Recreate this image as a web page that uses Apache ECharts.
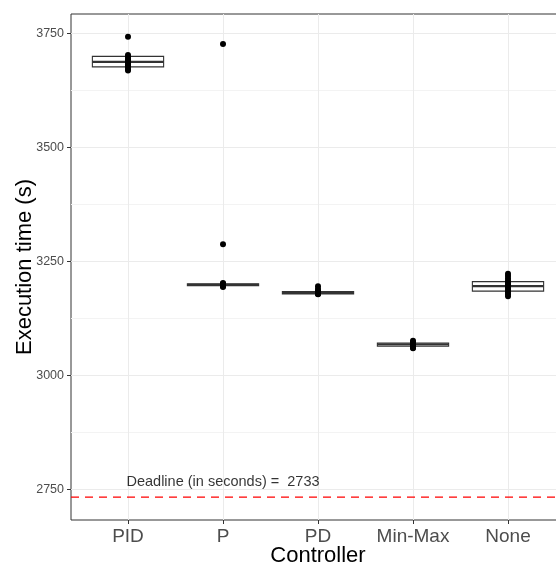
<!DOCTYPE html>
<html>
<head>
<meta charset="utf-8">
<script src="https://cdn.jsdelivr.net/npm/echarts@6/dist/echarts.min.js"></script>
<style>
html, body { margin: 0; padding: 0; background: #fff; }
#main { width: 556px; height: 566px; }
</style>
</head>
<body>
<div id="main"></div>
<script>
var controllers = ["PID", "P", "PD", "Min-Max", "None"];

// box statistics per controller (lower whisker, Q1, median, Q3, upper whisker)
var boxLow = [3669, 3194, 3178, 3060, 3174];
var boxQ1 = [3677, 3197, 3179, 3064, 3185];
var boxMed = [3688, 3199, 3181, 3068, 3196];
var boxQ3 = [3700, 3201, 3184, 3071, 3206];
var boxHigh = [3703, 3203, 3185, 3076, 3223];

// individual runs
var runsPID = [3743, 3703, 3698, 3694, 3691, 3689, 3687, 3684, 3680, 3676, 3672, 3669];
var runsP = [3727, 3288, 3203, 3201, 3200, 3199, 3198, 3197, 3196, 3194];
var runsPD = [3196, 3190, 3185, 3183, 3182, 3181, 3180, 3179, 3178];
var runsMinMax = [3076, 3073, 3071, 3069, 3068, 3067, 3065, 3063, 3061, 3060];
var runsNone = [3223, 3218, 3213, 3208, 3204, 3200, 3197, 3194, 3190, 3186, 3182, 3178, 3174];

var deadline = 2733;
var deadlineLabelPos = [2, 2766];

var yTicks = [2750, 3000, 3250, 3500, 3750];
var yMinorTicks = [2875, 3125, 3375, 3625];
var xTicks = [1, 2, 3, 4, 5];

var font = "Liberation Sans, Arial, Helvetica, sans-serif";

var boxData = [];
for (var i = 0; i < controllers.length; i++) {
  boxData.push([i + 1, boxLow[i], boxQ1[i], boxMed[i], boxQ3[i], boxHigh[i]]);
}

var allRuns = [runsPID, runsP, runsPD, runsMinMax, runsNone];
var pointData = [];
allRuns.forEach(function(runs, i) {
  runs.forEach(function(v) {
    pointData.push([i + 1, v]);
  });
});

function renderBox(params, api) {
  var x = api.value(0);
  var half = api.size([0.75, 0])[0] / 2;
  var pLow = api.coord([x, api.value(1)]);
  var pQ1 = api.coord([x, api.value(2)]);
  var pMed = api.coord([x, api.value(3)]);
  var pQ3 = api.coord([x, api.value(4)]);
  var pHigh = api.coord([x, api.value(5)]);
  var stroke = { stroke: "#333333", lineWidth: 1.1, fill: null };
  return {
    type: "group",
    children: [
      { type: "line", shape: { x1: pQ3[0], y1: pQ3[1], x2: pHigh[0], y2: pHigh[1] }, style: stroke },
      { type: "line", shape: { x1: pQ1[0], y1: pQ1[1], x2: pLow[0], y2: pLow[1] }, style: stroke },
      {
        type: "rect",
        shape: { x: pQ3[0] - half, y: pQ3[1], width: half * 2, height: pQ1[1] - pQ3[1] },
        style: { fill: "#ffffff", stroke: "#333333", lineWidth: 1.1 }
      },
      {
        type: "line",
        shape: { x1: pMed[0] - half, y1: pMed[1], x2: pMed[0] + half, y2: pMed[1] },
        style: { stroke: "#333333", lineWidth: 2.2 }
      }
    ]
  };
}

// horizontal reference line across the whole panel
function renderDeadline(params, api) {
  var cs = params.coordSys;
  var y = api.coord([1, api.value(1)])[1];
  return {
    type: "line",
    shape: { x1: cs.x, y1: y, x2: cs.x + cs.width, y2: y },
    style: { stroke: "#ff0000", lineWidth: 1.2, lineDash: [8, 6], fill: null }
  };
}

var option = {
  animation: false,
  backgroundColor: "#ffffff",
  textStyle: { fontFamily: font },
  grid: {
    left: 71,
    top: 14,
    bottom: 46,
    width: 494,
    show: true,
    borderColor: "#333333",
    borderWidth: 1,
    backgroundColor: "#ffffff",
    containLabel: false,
    outerBoundsMode: "none"
  },
  xAxis: {
    type: "value",
    min: 0.4,
    max: 5.6,
    name: "Controller",
    nameLocation: "middle",
    nameGap: 25,
    nameMoveOverlap: false,
    nameTextStyle: { fontSize: 22, color: "#000000", fontFamily: font },
    axisLine: { show: false },
    axisTick: {
      show: true,
      customValues: xTicks,
      length: 4,
      lineStyle: { color: "#333333", width: 1 }
    },
    axisLabel: {
      customValues: xTicks,
      margin: 7,
      fontSize: 19,
      color: "#4d4d4d",
      fontFamily: font,
      formatter: function(v) {
        return controllers[Math.round(v) - 1] || "";
      }
    },
    splitLine: { show: true, lineStyle: { color: "#ebebeb", width: 1 } }
  },
  yAxis: [
    {
      type: "value",
      min: 2683,
      max: 3793,
      name: "Execution time (s)",
      nameLocation: "middle",
      nameGap: 35,
      nameMoveOverlap: false,
      nameTextStyle: { fontSize: 22, color: "#000000", fontFamily: font },
      axisLine: { show: false },
      axisTick: {
        show: true,
        customValues: yTicks,
        length: 4,
        lineStyle: { color: "#333333", width: 1 }
      },
      axisLabel: {
        customValues: yTicks,
        margin: 7,
        fontSize: 12.5,
        color: "#4d4d4d",
        fontFamily: font,
        formatter: function(v) {
          return String(v);
        }
      },
      splitLine: { show: true, lineStyle: { color: "#ebebeb", width: 1 } }
    },
    {
      type: "value",
      min: 2683,
      max: 3793,
      position: "left",
      axisLine: { show: false },
      axisTick: { show: false, customValues: yMinorTicks },
      axisLabel: { show: false, customValues: yMinorTicks },
      splitLine: { show: true, lineStyle: { color: "#f3f3f3", width: 1 } }
    }
  ],
  series: [
    {
      type: "custom",
      name: "box",
      renderItem: renderBox,
      data: boxData,
      encode: { x: 0, y: [1, 2, 3, 4, 5] },
      z: 2
    },
    {
      type: "scatter",
      name: "runs",
      data: pointData,
      symbol: "circle",
      symbolSize: 6,
      itemStyle: { color: "#000000", opacity: 1 },
      z: 3
    },
    {
      type: "custom",
      name: "deadline line",
      renderItem: renderDeadline,
      data: [[deadlineLabelPos[0], deadline]],
      encode: { x: 0, y: 1 },
      silent: true,
      z: 4
    },
    {
      type: "scatter",
      name: "deadline",
      data: [deadlineLabelPos],
      symbolSize: 0.01,
      itemStyle: { color: "rgba(0,0,0,0)" },
      label: {
        show: true,
        position: "inside",
        formatter: "Deadline (in seconds) =  " + deadline,
        fontSize: 14.5,
        color: "#000000",
        fontFamily: font
      },
      z: 4
    }
  ]
};

var dom = document.getElementById("main");
var myChart = echarts.init(dom);
myChart.setOption(option);
</script>
</body>
</html>
